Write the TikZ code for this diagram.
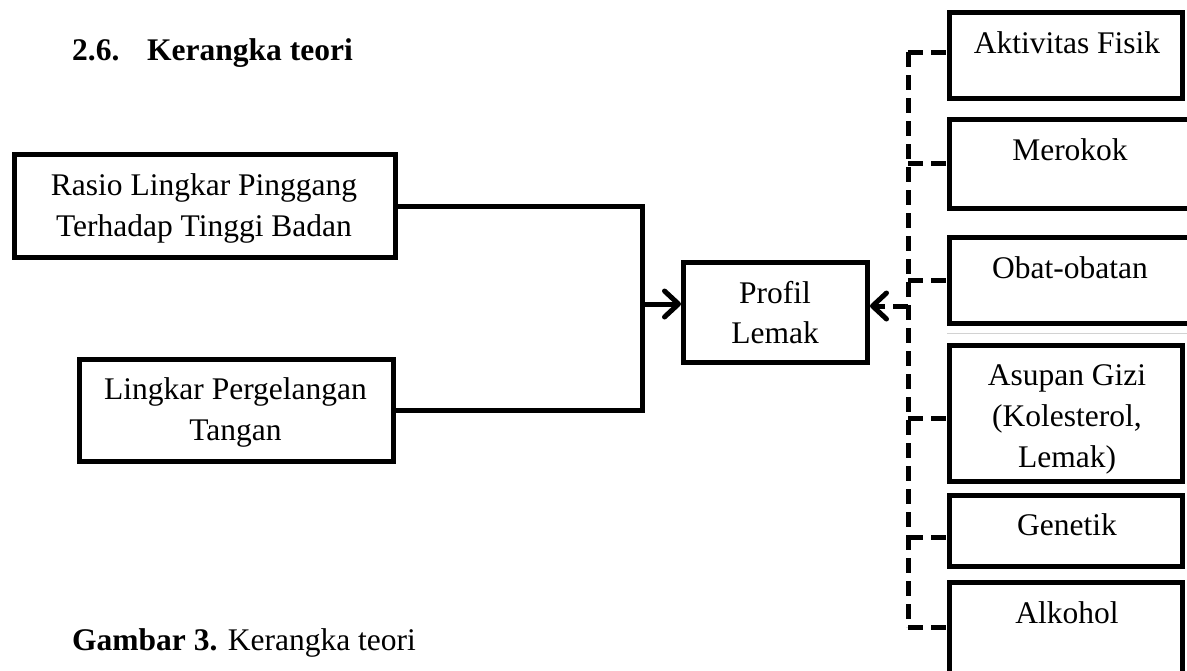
\documentclass[tikz,border=0pt]{standalone}
\usepackage{fontspec}
\setmainfont{Liberation Serif}
\usetikzlibrary{arrows.meta}
\begin{document}
\begin{tikzpicture}[x=1pt,y=-1pt,
  box/.style={draw, line width=5pt, rectangle, inner sep=0pt},
  txt/.style={font=\fontsize{31.5}{41}\selectfont, inner sep=0pt, anchor=base},
  btxt/.style={font=\fontsize{31.5}{41}\selectfont\bfseries, inner sep=0pt, anchor=base west},
  conn/.style={line width=5pt},
  dconn/.style={line width=5pt, dash pattern=on 15pt off 8pt},
  tip/.style={-{Straight Barb[length=14pt,width=26pt,round]}}
]
\useasboundingbox (0,0) rectangle (1187,670);

% title and caption
\node[btxt] (num) at (72,60) {2.6.};
\node[btxt] (ttl) at (147,60) {Kerangka teori};
\node[txt, anchor=base west] (cap) at (72,650) {\textbf{Gambar 3.} Kerangka teori};

% left boxes
\node[box, minimum width=381pt, minimum height=103pt] (rasio) at (205,206) {};
\node[txt] (rasio1) at (204,195) {Rasio Lingkar Pinggang};
\node[txt] (rasio2) at (204,236) {Terhadap Tinggi Badan};

\node[box, minimum width=314pt, minimum height=102pt] (ling) at (236.5,410.5) {};
\node[txt] (ling1) at (235.5,399) {Lingkar Pergelangan};
\node[txt] (ling2) at (235.5,440) {Tangan};

% centre box
\node[box, minimum width=184pt, minimum height=100pt] (prof) at (775.5,312.5) {};
\node[txt] (prof1) at (775,303) {Profil};
\node[txt] (prof2) at (775,343) {Lemak};

% right boxes
\node[box, minimum width=233pt, minimum height=86pt] (akt) at (1066,55.5) {};
\node[txt] (aktT) at (1067,53) {Aktivitas Fisik};
\node[box, minimum width=243pt, minimum height=89pt] (mer) at (1071,164) {};
\node[txt] (merT) at (1070,160) {Merokok};
\node[box, minimum width=243pt, minimum height=86pt] (obat) at (1071,280.5) {};
\node[txt] (obatT) at (1070,278) {Obat-obatan};
\draw[gray!35, line width=1pt] ([yshift=-7pt]obat.south west) -- ++(250,0);
\node[box, minimum width=233pt, minimum height=136pt] (asu) at (1066,413.5) {};
\node[txt] (asu1) at (1067,385) {Asupan Gizi};
\node[txt] (asu2) at (1067,426) {(Kolesterol,};
\node[txt] (asu3) at (1067,467) {Lemak)};
\node[box, minimum width=233pt, minimum height=71pt] (gen) at (1066,531) {};
\node[txt] (genT) at (1067,535) {Genetik};
\node[box, minimum width=233pt, minimum height=105pt] (alk) at (1066,635) {};
\node[txt] (alkT) at (1067,623) {Alkohol};

% left connectors
\coordinate (jx) at (642,0);
\draw[conn] (rasio.east) -- (jx |- rasio.east) -- (jx |- ling.east) -- (ling.east);
\coordinate (ain) at (642,304);
\draw[conn, tip] (ain) -- (ain -| prof.west);

% right dashed connectors
\coordinate (vtop) at (908,52);
\coordinate (vbot) at (908,627);
\draw[dconn] (vtop) -- (vbot);
\draw[dconn] (vtop) -- (vtop -| akt.west);
\draw[dconn] (908,163) coordinate (s2) -- (s2 -| mer.west);
\draw[dconn] (908,280) coordinate (s3) -- (s3 -| obat.west);
\draw[dconn] (908,418) coordinate (s4) -- (s4 -| asu.west);
\draw[dconn] (908,537) coordinate (s5) -- (s5 -| gen.west);
\draw[dconn] (vbot) -- (vbot -| alk.west);
\coordinate (aout) at (908,306);
\draw[dconn, tip] (aout) -- (aout -| prof.east);
\end{tikzpicture}
\end{document}
